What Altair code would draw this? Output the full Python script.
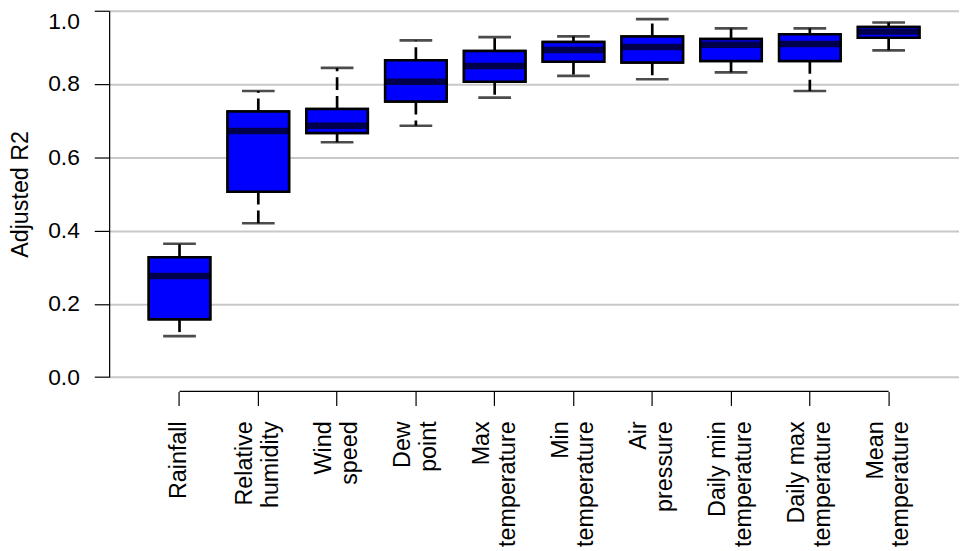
import altair as alt
import pandas as pd

# ---- data ----
label_line1 = ["Rainfall", "Relative", "Wind", "Dew", "Max", "Min", "Air",
               "Daily min", "Daily max", "Mean"]
label_line2 = ["", "humidity", "speed", "point", "temperature", "temperature",
               "pressure", "temperature", "temperature", "temperature"]
whisker_low = [0.112, 0.420, 0.641, 0.686, 0.763, 0.822, 0.813, 0.832, 0.781, 0.892]
q1 = [0.158, 0.506, 0.666, 0.752, 0.806, 0.861, 0.859, 0.863, 0.863, 0.926]
median = [0.276, 0.672, 0.686, 0.806, 0.849, 0.893, 0.901, 0.907, 0.909, 0.943]
q3 = [0.327, 0.725, 0.732, 0.865, 0.890, 0.915, 0.930, 0.923, 0.936, 0.956]
whisker_high = [0.364, 0.781, 0.844, 0.919, 0.928, 0.930, 0.977, 0.952, 0.952, 0.968]
y_ticks = [0.0, 0.2, 0.4, 0.6, 0.8, 1.0]

labels = [a + ("\u00a0\n" + b if b else "") for a, b in zip(label_line1, label_line2)]
df = pd.DataFrame({"cat": labels, "lo": whisker_low, "q1": q1, "med": median,
                   "q3": q3, "hi": whisker_high})
axis_df = pd.DataFrame({"a": [labels[0]], "b": [labels[-1]]})

W, H = 857, 369.4
FONT = "Liberation Sans"

x_scale = alt.Scale(domain=labels, paddingInner=0, paddingOuter=0.393)
y_scale = alt.Scale(domain=[0, 1], nice=False, zero=True)

x_axis = alt.Axis(title=None, domain=False, offset=14.6, tickSize=14,
                  tickColor="black", tickWidth=1.2, labelAngle=-90,
                  labelPadding=15.5, labelExpr="split(datum.label, '\\n')",
                  labelOffset={"condition": {"test": "indexof(datum.label, '\\n') >= 0",
                                             "value": -13}, "value": 0},
                  labelLineHeight=26, labelFontSize=23.5, labelFont=FONT,
                  labelColor="black", grid=False, labelLimit=400)
y_axis = alt.Axis(title="Adjusted R2", values=y_ticks, format=".1f",
                  domain=True, domainColor="black", domainWidth=1.2,
                  tickSize=15, tickColor="black", tickWidth=1.2,
                  labelPadding=15, labelFontSize=23, labelFont=FONT,
                  labelColor="black",
                  labelOffset={"condition": {"test": "datum.value == 1", "value": 11}, "value": 0},
                  grid=True, gridColor="#c8c8c8", gridWidth=2,
                  titleAngle=270, titleX=-101, titleY=H / 2, titleAlign="center",
                  titleBaseline="top", titleFontSize=23.5, titleFont=FONT,
                  titleFontWeight="normal", titleColor="black")

base = alt.Chart(df)
xe = alt.X("cat:N", scale=x_scale)

box = base.mark_bar(size=62, fill="#0000ff", stroke="black", strokeWidth=2.5).encode(
    x=alt.X("cat:N", scale=x_scale, axis=x_axis),
    y=alt.Y("q1:Q", scale=y_scale, axis=y_axis),
    y2="q3:Q",
)
whisk_up = base.mark_rule(color="black", strokeWidth=2.7, strokeDash=[13, 6],
                          strokeCap="butt").encode(x=xe, y=alt.Y("q3:Q"), y2="hi:Q")
whisk_dn = base.mark_rule(color="black", strokeWidth=2.7, strokeDash=[13, 6],
                          strokeCap="butt").encode(x=xe, y=alt.Y("q1:Q"), y2="lo:Q")
cap_hi = base.mark_tick(size=33, thickness=2.7, color="black").encode(x=xe, y=alt.Y("hi:Q"))
cap_lo = base.mark_tick(size=33, thickness=2.7, color="black").encode(x=xe, y=alt.Y("lo:Q"))
boxtop = base.mark_bar(size=62, fill="#0000ff", stroke="black", strokeWidth=2.5).encode(
    x=xe, y=alt.Y("q1:Q"), y2="q3:Q")
med = base.mark_tick(size=63, thickness=6.5, color="black").encode(x=xe, y=alt.Y("med:Q"))
xline = alt.Chart(axis_df).mark_rule(color="black", strokeWidth=1.2).encode(
    x=alt.X("a:N", scale=x_scale), x2="b:N", y=alt.value(383.8))

chart = alt.layer(box, whisk_up, whisk_dn, cap_hi, cap_lo, boxtop, med, xline).properties(
    width=W, height=H,
    autosize=alt.AutoSizeParams(type="none"),
    padding={"left": 102, "top": 0.5, "right": 0, "bottom": 173},
).configure_view(stroke=None).configure(background="white")

chart.save("out.html", embed_options={"renderer": "svg", "actions": False})
